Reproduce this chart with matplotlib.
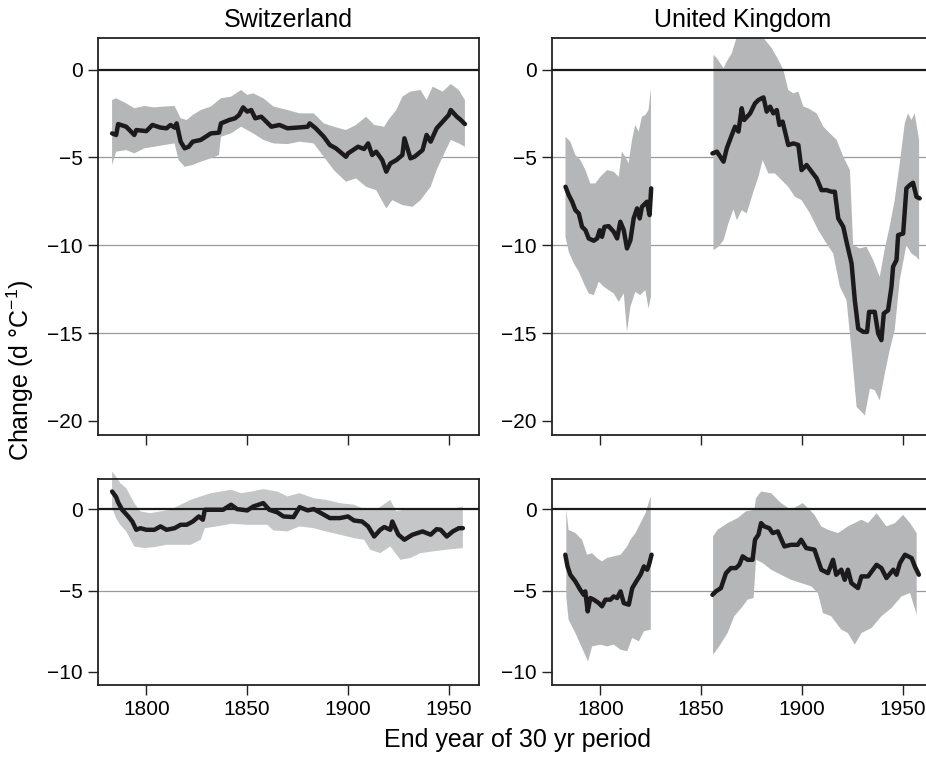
import numpy as np
import matplotlib
matplotlib.use("Agg")
import matplotlib.pyplot as plt

plt.rcParams.update({
    "font.family": "Liberation Sans",
    "mathtext.fontset": "custom",
    "mathtext.rm": "Liberation Sans",
    "mathtext.it": "Liberation Sans:italic",
})

# ---- Switzerland, upper panel ----
sw_top_year = [1783, 1785, 1786, 1790, 1794, 1795, 1800, 1803, 1807, 1810, 1812, 1814, 1815, 1817, 1819,
               1821, 1823, 1827, 1832, 1836, 1837, 1841, 1844, 1846, 1848, 1850, 1852, 1854, 1857, 1862,
               1866, 1870, 1876, 1880, 1881, 1884, 1888, 1891, 1894, 1899, 1900, 1905, 1908, 1910, 1912,
               1914, 1917, 1919, 1921, 1924, 1927, 1928, 1931, 1933, 1937, 1939, 1941, 1944, 1947, 1950,
               1951, 1954, 1956, 1958]
sw_top_mean = [-3.63, -3.72, -3.10, -3.25, -3.72, -3.44, -3.5, -3.15, -3.3, -3.34, -3.15, -3.3, -3.06, -4.1, -4.48,
               -4.39, -4.1, -4.0, -3.63, -3.59, -3.06, -2.87, -2.77, -2.58, -2.15, -2.39, -2.3, -2.77, -2.68, -3.25,
               -3.15, -3.34, -3.29, -3.25, -3.06, -3.34, -3.82, -4.29, -4.48, -4.96, -4.77, -4.39, -4.52, -4.2, -4.86,
               -4.67, -5.15, -5.81, -5.34, -5.15, -4.86, -3.91, -5.05, -4.96, -4.58, -3.72, -4.1, -3.34, -2.96, -2.58,
               -2.3, -2.68, -2.87, -3.1]
sw_top_up_year = [1783, 1785, 1790, 1794, 1799, 1804, 1809, 1814, 1815, 1817, 1820, 1823, 1827, 1832, 1837,
                  1842, 1847, 1850, 1853, 1858, 1863, 1870, 1876, 1883, 1888, 1893, 1899, 1904, 1909, 1913,
                  1918, 1920, 1924, 1927, 1931, 1936, 1939, 1942, 1947, 1951, 1955, 1958]
sw_top_up = [-1.73, -1.63, -1.92, -2.2, -2.07, -2.15, -2.1, -2.07, -2.3, -2.77, -2.87, -2.58, -2.3, -2.1, -1.63,
             -1.54, -1.16, -1.44, -1.35, -1.63, -2.1, -2.3, -2.49, -2.49, -3.06, -3.25, -3.44, -3.15, -2.68, -3.15,
             -3.25, -2.87, -2.3, -1.54, -1.25, -1.16, -1.73, -0.97, -1.25, -0.82, -1.16, -1.73]
sw_top_lo_year = [1783, 1785, 1790, 1794, 1799, 1804, 1809, 1814, 1816, 1819, 1823, 1827, 1832, 1836, 1837,
                  1842, 1847, 1850, 1853, 1858, 1863, 1870, 1876, 1883, 1888, 1893, 1899, 1904, 1909, 1914,
                  1919, 1922, 1927, 1932, 1936, 1941, 1944, 1947, 1951, 1955, 1958]
sw_top_lo = [-5.43, -4.67, -4.58, -4.77, -4.48, -4.39, -4.29, -4.2, -5.15, -5.53, -5.43, -5.24, -5.05, -4.86, -3.82,
             -3.63, -3.25, -3.44, -3.63, -4.0, -4.2, -4.24, -4.1, -4.2, -4.96, -5.72, -6.38, -6.19, -6.67, -6.86,
             -7.9, -7.43, -7.71, -7.81, -7.43, -6.67, -5.72, -4.96, -4.0, -4.2, -4.39]

# ---- Switzerland, lower panel ----
sw_bot_year = [1783, 1785, 1786, 1788, 1791, 1793, 1795, 1797, 1800, 1804, 1807, 1810, 1814, 1817, 1820,
               1823, 1826, 1828, 1829, 1833, 1838, 1842, 1845, 1850, 1853, 1858, 1861, 1865, 1868, 1873,
               1876, 1880, 1883, 1886, 1891, 1896, 1900, 1903, 1907, 1910, 1913, 1916, 1918, 1921, 1922,
               1925, 1928, 1932, 1937, 1941, 1944, 1946, 1949, 1952, 1955, 1957]
sw_bot_mean = [1.08, 0.74, 0.41, -0.04, -0.45, -0.76, -1.27, -1.17, -1.27, -1.27, -1.06, -1.27, -1.17, -0.96, -0.96,
               -0.76, -0.45, -0.65, -0.04, -0.04, -0.04, 0.27, 0.0, -0.08, 0.16, 0.37, -0.04, -0.2, -0.45, -0.49,
               0.12, -0.08, 0.0, -0.2, -0.55, -0.55, -0.45, -0.7, -0.76, -1.06, -1.68, -1.27, -1.1, -1.27, -0.76,
               -1.57, -1.88, -1.57, -1.37, -1.57, -1.23, -1.27, -1.68, -1.37, -1.17, -1.17]
sw_bot_up_year = [1783, 1785, 1787, 1790, 1794, 1797, 1802, 1807, 1812, 1817, 1822, 1827, 1832, 1837, 1842,
                  1847, 1852, 1858, 1865, 1870, 1876, 1883, 1889, 1896, 1903, 1909, 1914, 1921, 1924, 1931,
                  1937, 1944, 1951, 1957]
sw_bot_up = [2.31, 2.0, 1.6, 1.29, 0.37, -0.14, -0.25, -0.14, -0.04, 0.27, 0.57, 0.78, 0.98, 1.08, 1.19,
             0.98, 1.08, 1.23, 1.08, 0.78, 0.98, 0.67, 0.57, 0.37, 0.27, -0.04, -0.04, 0.57, -0.14, 0.06,
             -0.04, 0.06, 0.0, 0.16]
sw_bot_lo_year = [1783, 1785, 1787, 1790, 1794, 1799, 1804, 1810, 1817, 1822, 1827, 1829, 1835, 1842, 1850,
                  1860, 1863, 1870, 1876, 1883, 1889, 1896, 1903, 1908, 1911, 1916, 1921, 1926, 1931, 1936,
                  1942, 1949, 1957]
sw_bot_lo = [0.06, -0.55, -0.96, -1.37, -2.29, -2.39, -2.33, -2.19, -2.19, -2.19, -1.88, -1.17, -1.06, -0.9, -0.96,
             -0.96, -1.31, -1.37, -1.06, -1.17, -1.37, -1.57, -1.78, -1.88, -2.49, -2.7, -2.29, -3.11, -3.0, -2.7,
             -2.6, -2.49, -2.39]

# ---- United Kingdom, upper panel (two segments) ----
uk_top_year1 = [1782.7, 1784.3, 1786.0, 1787.6, 1789.3, 1790.9, 1792.6, 1794.2, 1796.7, 1798.4, 1799.7, 1800.8,
                1802.0, 1804.1, 1806.6, 1808.3, 1809.9, 1811.6, 1813.2, 1814.9, 1816.5, 1818.2, 1819.5, 1820.6,
                1823.1, 1824.4, 1825.2]
uk_top_mean1 = [-6.67, -7.14, -7.52, -8.0, -8.19, -8.95, -9.14, -9.61, -9.74, -9.61, -9.14, -9.52,
                -8.95, -8.91, -9.23, -9.61, -8.66, -9.14, -10.18, -9.71, -8.47, -7.9, -8.47, -7.81,
                -7.52, -8.28, -6.76]
uk_top_up_year1 = [1782.7, 1785.1, 1787.6, 1790.1, 1792.6, 1795.0, 1797.5, 1800.0, 1803.3, 1806.6, 1809.1,
                   1810.7, 1812.4, 1814.0, 1815.7, 1817.3, 1819.0, 1820.6, 1822.3, 1823.9, 1825.1]
uk_top_up1 = [-3.82, -4.1, -4.86, -5.15, -5.72, -6.48, -6.48, -6.1, -5.72, -5.81, -6.1,
              -4.67, -4.96, -5.34, -4.0, -3.15, -3.53, -2.68, -2.58, -2.3, -1.06]
uk_top_lo_year1 = [1782.7, 1784.3, 1786.8, 1789.3, 1791.8, 1794.2, 1796.7, 1799.2, 1801.7, 1804.1, 1806.6,
                   1809.1, 1811.6, 1813.2, 1814.9, 1817.3, 1819.8, 1822.3, 1823.9, 1825.1]
uk_top_lo1 = [-9.52, -10.37, -11.03, -11.5, -12.17, -12.74, -12.84, -12.07, -12.36, -12.55, -12.74,
              -13.22, -12.74, -14.93, -13.5, -12.65, -12.84, -12.55, -13.6, -12.93]

uk_top_year2 = [1855.6, 1857.8, 1861.1, 1862.7, 1865.2, 1866.8, 1868.5, 1870.1, 1871.3, 1874.3, 1876.7, 1878.4,
                1880.9, 1882.5, 1884.2, 1885.8, 1887.5, 1888.8, 1890.4, 1893.2, 1895.7, 1898.2, 1899.8, 1902.3,
                1904.8, 1907.3, 1909.7, 1912.2, 1914.7, 1916.3, 1918.0, 1920.5, 1922.1, 1924.6, 1926.2, 1927.9,
                1930.4, 1932.3, 1933.3, 1936.1, 1937.8, 1939.4, 1940.6, 1942.7, 1944.4, 1945.2, 1946.9, 1947.7,
                1950.2, 1951.8, 1953.5, 1955.1, 1956.8, 1958.4]
uk_top_mean2 = [-4.77, -4.67, -5.24, -4.48, -3.72, -3.25, -3.53, -2.2, -2.87, -2.49, -1.92, -1.73,
                -1.58, -2.39, -2.11, -2.49, -2.3, -3.15, -2.96, -4.29, -4.2, -4.29, -5.72, -5.43,
                -5.81, -6.19, -6.86, -6.86, -6.95, -6.95, -8.47, -8.95, -9.8, -11.03, -13.12, -14.74,
                -14.93, -14.93, -13.79, -13.79, -15.02, -15.4, -13.88, -13.7, -12.36, -11.22, -10.84, -9.42,
                -9.33, -6.76, -6.57, -6.44, -7.24, -7.33]
uk_top_up_year2 = [1856.1, 1857.8, 1861.1, 1862.7, 1865.2, 1867.7, 1871.0, 1872.6, 1877.6, 1881.7, 1885.0,
                   1888.3, 1890.8, 1893.2, 1895.7, 1898.2, 1900.7, 1903.1, 1907.3, 1910.6, 1913.9, 1917.2,
                   1920.5, 1923.8, 1925.4, 1928.7, 1932.0, 1935.3, 1938.6, 1941.1, 1943.5, 1946.0, 1948.5,
                   1951.0, 1952.6, 1954.3, 1955.9, 1958.1]
uk_top_up2 = [0.84, 0.65, 0.08, 0.46, 0.93, 1.88, 2.3, 2.3, 2.3, 1.69, 1.22,
              0.55, -0.02, -1.16, -1.35, -1.25, -2.1, -2.2, -2.49, -3.25, -3.63, -4.0,
              -4.96, -5.72, -9.99, -10.18, -10.08, -10.84, -11.8, -10.18, -8.95, -7.43, -5.34,
              -3.06, -2.49, -2.87, -2.49, -4.0]
uk_top_lo_year2 = [1856.1, 1858.6, 1861.1, 1863.5, 1866.0, 1867.7, 1870.1, 1872.6, 1875.9, 1878.4, 1880.5,
                   1883.3, 1886.6, 1889.9, 1893.2, 1896.5, 1899.8, 1904.0, 1908.1, 1912.2, 1915.5, 1918.8,
                   1922.1, 1924.6, 1927.1, 1931.2, 1933.7, 1936.1, 1938.6, 1941.1, 1943.5, 1946.0, 1948.5,
                   1951.8, 1954.3, 1956.8, 1958.1]
uk_top_lo2 = [-10.28, -10.08, -9.71, -8.76, -7.95, -8.57, -8.0, -8.19, -6.95, -6.1, -5.15,
              -5.91, -5.91, -6.29, -6.67, -7.24, -7.43, -8.19, -9.14, -9.9, -10.47, -12.36,
              -13.12, -15.97, -19.2, -19.68, -18.16, -18.25, -18.82, -17.3, -15.97, -14.83, -11.98,
              -9.99, -10.47, -10.66, -10.84]

# ---- United Kingdom, lower panel (two segments) ----
uk_bot_year1 = [1782.6, 1783.7, 1785.1, 1787.6, 1790.0, 1791.7, 1792.5, 1793.7, 1795.0, 1796.7, 1799.2, 1800.8,
                1802.5, 1805.0, 1806.6, 1808.3, 1810.0, 1811.6, 1814.1, 1815.8, 1818.3, 1819.9, 1821.6, 1823.2,
                1824.1, 1825.4]
uk_bot_mean1 = [-2.8, -3.52, -4.03, -4.44, -4.95, -5.26, -5.05, -6.28, -5.46, -5.56, -5.77, -5.97,
                -5.56, -5.56, -5.36, -5.46, -5.05, -5.77, -5.87, -4.85, -4.34, -4.03, -3.52, -3.72,
                -3.42, -2.8]
uk_bot_up_year1 = [1783.1, 1784.2, 1787.6, 1790.9, 1793.4, 1795.9, 1798.3, 1800.8, 1803.3, 1806.6, 1810.0,
                   1813.3, 1814.9, 1817.4, 1819.9, 1822.4, 1825.0]
uk_bot_up1 = [-0.04, -1.27, -1.47, -1.88, -2.8, -2.7, -3.0, -3.21, -3.0, -2.9, -2.8,
              -2.29, -1.88, -1.47, -0.86, -0.25, 0.8]
uk_bot_lo_year1 = [1783.1, 1784.2, 1787.6, 1790.9, 1793.9, 1795.9, 1800.0, 1803.3, 1806.6, 1810.0, 1813.3,
                   1815.8, 1819.1, 1821.6, 1825.0]
uk_bot_lo1 = [-5.36, -6.77, -7.61, -8.53, -9.35, -8.43, -8.32, -8.43, -8.32, -8.63, -8.73,
              -7.91, -8.12, -7.5, -7.4]

uk_bot_year2 = [1855.6, 1857.3, 1859.8, 1862.3, 1864.7, 1867.2, 1868.9, 1870.6, 1873.0, 1875.5, 1876.7,
                1878.4, 1879.7, 1881.3, 1883.8, 1885.5, 1888.0, 1891.3, 1894.6, 1897.9, 1899.6, 1902.1,
                1906.2, 1909.6, 1912.9, 1915.4, 1917.0, 1919.5, 1921.2, 1922.8, 1924.5, 1927.8, 1929.5,
                1932.8, 1937.0, 1939.4, 1941.9, 1945.3, 1946.9, 1948.6, 1951.1, 1954.4, 1956.0, 1958.0]
uk_bot_mean2 = [-5.26, -5.05, -4.85, -3.93, -3.62, -3.62, -3.42, -2.9, -3.11, -3.11, -1.88,
                -1.57, -0.86, -1.06, -1.17, -1.47, -1.37, -2.29, -2.19, -2.19, -1.88, -2.39,
                -2.49, -3.72, -3.93, -3.11, -4.03, -3.72, -4.34, -3.72, -4.54, -4.85, -4.13,
                -4.13, -3.42, -3.62, -4.23, -3.72, -4.03, -3.31, -2.8, -3.01, -3.52, -4.03]
uk_bot_up_year2 = [1855.9, 1858.1, 1863.1, 1868.1, 1872.2, 1876.4, 1877.2, 1879.7, 1884.7, 1889.6, 1894.6,
                   1900.4, 1903.8, 1906.2, 1909.6, 1912.9, 1917.9, 1922.8, 1929.5, 1932.8, 1937.0, 1941.9,
                   1946.1, 1950.2, 1953.6, 1956.9]
uk_bot_up2 = [-1.68, -1.27, -0.86, -0.55, -0.14, -0.04, 0.67, 1.08, 0.98, 0.37, -0.04,
              0.37, -0.04, -0.35, -1.06, -1.27, -1.47, -1.06, -0.65, -0.86, -0.25, -1.06,
              -0.86, -0.35, -0.86, -1.47]
uk_bot_lo_year2 = [1855.9, 1858.9, 1863.1, 1866.4, 1870.6, 1873.0, 1876.0, 1877.2, 1880.5, 1884.7, 1889.6,
                   1894.6, 1899.6, 1904.6, 1907.9, 1910.4, 1914.5, 1919.5, 1922.8, 1926.2, 1929.5, 1934.5,
                   1939.4, 1944.4, 1949.4, 1953.6, 1956.9]
uk_bot_lo2 = [-8.94, -8.43, -7.61, -6.58, -5.97, -5.56, -5.46, -3.11, -3.31, -3.72, -4.03,
              -4.34, -4.54, -4.74, -5.15, -6.38, -6.58, -7.4, -7.61, -8.32, -7.61, -7.3,
              -6.58, -6.07, -5.36, -5.15, -6.48]

years_ticks = [1800, 1850, 1900, 1950]
top_yticks = [0, -5, -10, -15, -20]
bot_yticks = [0, -5, -10]

BAND = "#b5b6b8"
LINE = "#1c1a1b"


def band(ax, xu, yu, xl, yl, color=BAND, clip=True):
    ax.fill(np.r_[xu, xl[::-1]], np.r_[yu, yl[::-1]], color=color, lw=0, zorder=2, clip_on=clip)


def style(ax, yticks, ylim, labels=True):
    ax.set_xlim(1776, 1965)
    ax.set_ylim(*ylim)
    ax.set_xticks(years_ticks)
    ax.set_yticks(yticks)
    if not labels:
        ax.set_xticklabels([])
    for y in yticks[1:-1]:
        ax.axhline(y, color="#9a9a9a", lw=0.9, zorder=1)
    ax.axhline(0, color="#1a1a1a", lw=1.6, zorder=3)
    ax.tick_params(direction="out", length=7, width=1, labelsize=15, pad=4, color="#222222")
    for s in ax.spines.values():
        s.set_linewidth(1.3)
        s.set_color("#222222")


fig = plt.figure(figsize=(9.26, 7.61), dpi=100)
W, H = 926.0, 761.0
ax1 = fig.add_axes([98 / W, 1 - 435 / H, 381 / W, 397 / H])
ax2 = fig.add_axes([552 / W, 1 - 435 / H, 381 / W, 397 / H])
ax3 = fig.add_axes([98 / W, 1 - 685 / H, 381 / W, 206 / H])
ax4 = fig.add_axes([552 / W, 1 - 685 / H, 381 / W, 206 / H])

# Switzerland
band(ax1, sw_top_up_year, sw_top_up, sw_top_lo_year, sw_top_lo)
ax1.plot(sw_top_year, sw_top_mean, color=LINE, lw=3.2, zorder=4, solid_capstyle="round")
style(ax1, top_yticks, (-20.8, 1.8), labels=False)
ax1.set_title("Switzerland", fontsize=18, pad=8)

band(ax3, sw_bot_up_year, sw_bot_up, sw_bot_lo_year, sw_bot_lo, color="#c5c6c8", clip=False)
ax3.plot(sw_bot_year, sw_bot_mean, color=LINE, lw=3.2, zorder=4, solid_capstyle="round")
style(ax3, bot_yticks, (-10.8, 1.85))

# United Kingdom
band(ax2, uk_top_up_year1, uk_top_up1, uk_top_lo_year1, uk_top_lo1)
band(ax2, uk_top_up_year2, uk_top_up2, uk_top_lo_year2, uk_top_lo2)
ax2.plot(uk_top_year1, uk_top_mean1, color=LINE, lw=3.2, zorder=4, solid_capstyle="round")
ax2.plot(uk_top_year2, uk_top_mean2, color=LINE, lw=3.2, zorder=4, solid_capstyle="round")
style(ax2, top_yticks, (-20.8, 1.8), labels=False)
ax2.set_title("United Kingdom", fontsize=18, pad=8)

band(ax4, uk_bot_up_year1, uk_bot_up1, uk_bot_lo_year1, uk_bot_lo1)
band(ax4, uk_bot_up_year2, uk_bot_up2, uk_bot_lo_year2, uk_bot_lo2)
ax4.plot(uk_bot_year1, uk_bot_mean1, color=LINE, lw=3.2, zorder=4, solid_capstyle="round")
ax4.plot(uk_bot_year2, uk_bot_mean2, color=LINE, lw=3.2, zorder=4, solid_capstyle="round")
style(ax4, bot_yticks, (-10.8, 1.85))

fig.text(518 / W, 1 - 740 / H, "End year of 30 yr period", ha="center", va="center", fontsize=18)
fig.text(20 / W, 1 - 370 / H, "Change (d °C$^{-1}$)", ha="center", va="center",
         rotation=90, fontsize=18)

fig.savefig("out.png", dpi=100)
